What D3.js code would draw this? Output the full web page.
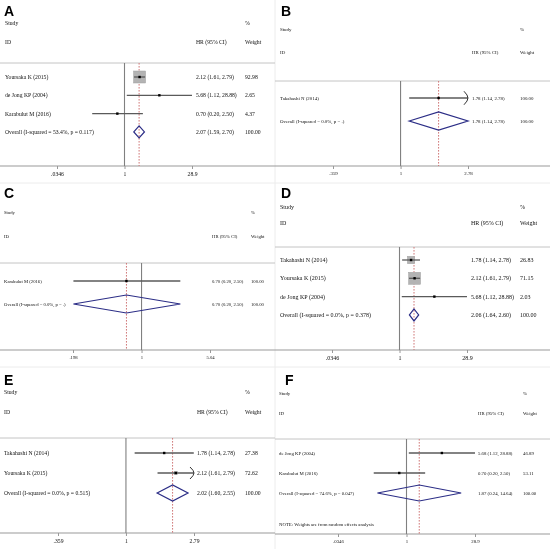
<!DOCTYPE html>
<html><head><meta charset="utf-8">
<script src="https://cdn.jsdelivr.net/npm/d3@7"></script>
<style>body{margin:0;background:#fff}svg{display:block;will-change:transform;-webkit-font-smoothing:antialiased}</style>
</head><body><svg id="chart" width="550" height="549"></svg>
<script>
// ---------------- DATA ----------------
const panelKeys = ["A", "B", "C", "D", "E", "F"];

const studiesA = ["Yoursaka K (2015)", "de Jong KP (2004)", "Karabulut M (2016)"];
const hrA = [2.12, 5.68, 0.70];
const lowA = [1.61, 1.12, 0.20];
const highA = [2.79, 28.88, 2.50];
const weightA = [92.98, 2.65, 4.37];

const studiesB = ["Takahashi N (2014)"];
const hrB = [1.78];
const lowB = [1.14];
const highB = [2.78];
const weightB = [100.00];

const studiesC = ["Karabulut M (2016)"];
const hrC = [0.70];
const lowC = [0.20];
const highC = [2.50];
const weightC = [100.00];

const studiesD = ["Takahashi N (2014)", "Yoursaka K (2015)", "de Jong KP (2004)"];
const hrD = [1.78, 2.12, 5.68];
const lowD = [1.14, 1.61, 1.12];
const highD = [2.78, 2.79, 28.88];
const weightD = [26.83, 71.15, 2.03];

const studiesE = ["Takahashi N (2014)", "Yoursaka K (2015)"];
const hrE = [1.78, 2.12];
const lowE = [1.14, 1.61];
const highE = [2.78, 2.79];
const weightE = [27.38, 72.62];

const studiesF = ["de Jong KP (2004)", "Karabulut M (2016)"];
const hrF = [5.68, 0.70];
const lowF = [1.12, 0.20];
const highF = [28.88, 2.50];
const weightF = [46.89, 53.11];

const overallHR = [2.07, 1.78, 0.70, 2.06, 2.02, 1.87];
const overallLow = [1.59, 1.14, 0.20, 1.64, 1.60, 0.24];
const overallHigh = [2.70, 2.78, 2.50, 2.60, 2.55, 14.64];
const overallI2 = ["53.4%", "0.0%", "0.0%", "0.0%", "0.0%", "74.6%"];
const overallP = ["0.117", ".", ".", "0.378", "0.515", "0.047"];

const tickValuesA = [0.0346, 1, 28.9], tickLabelsA = [".0346", "1", "28.9"];
const tickValuesB = [0.359, 1, 2.78],  tickLabelsB = [".359", "1", "2.78"];
const tickValuesC = [0.198, 1, 5.04],  tickLabelsC = [".198", "1", "5.04"];
const tickValuesD = [0.0346, 1, 28.9], tickLabelsD = [".0346", "1", "28.9"];
const tickValuesE = [0.359, 1, 2.79],  tickLabelsE = [".359", "1", "2.79"];
const tickValuesF = [0.0346, 1, 28.9], tickLabelsF = [".0346", "1", "28.9"];

const noteF = "NOTE: Weights are from random effects analysis";

const headerStudy = "Study", headerPct = "%", headerID = "ID", headerHR = "HR (95% CI)", headerWeight = "Weight";

// ---------------- ASSEMBLY ----------------
const panelData = {
  A: {studies: studiesA, hr: hrA, low: lowA, high: highA, weight: weightA, ticks: tickValuesA, tickLabels: tickLabelsA},
  B: {studies: studiesB, hr: hrB, low: lowB, high: highB, weight: weightB, ticks: tickValuesB, tickLabels: tickLabelsB},
  C: {studies: studiesC, hr: hrC, low: lowC, high: highC, weight: weightC, ticks: tickValuesC, tickLabels: tickLabelsC},
  D: {studies: studiesD, hr: hrD, low: lowD, high: highD, weight: weightD, ticks: tickValuesD, tickLabels: tickLabelsD},
  E: {studies: studiesE, hr: hrE, low: lowE, high: highE, weight: weightE, ticks: tickValuesE, tickLabels: tickLabelsE},
  F: {studies: studiesF, hr: hrF, low: lowF, high: highF, weight: weightF, ticks: tickValuesF, tickLabels: tickLabelsF}
};

// layout (positions / styles only)
const layouts = {
  A: {ox: 0,   letterX: 4,   letterY: 16,  textX: 5,   studyY: 23,  idY: 42,  topY: 63,  row0: 77,  step: 18.3, axisY: 166, xL: 57,  xR: 192, colHR: 196, colW: 245, fs: 5.7, boxK: 1.245, dh: 6},
  B: {ox: 275, letterX: 281, letterY: 16,  textX: 280, studyY: 29,  idY: 52,  topY: 81,  row0: 98,  step: 23,   axisY: 166, xL: 333, xR: 468, colHR: 472, colW: 520, fs: 4.9, boxK: 0.28,  dh: 9},
  C: {ox: 0,   letterX: 4,   letterY: 198, textX: 4,   studyY: 212, idY: 236, topY: 263, row0: 281, step: 23,   axisY: 350, xL: 73,  xR: 210, colHR: 212, colW: 251, fs: 4.7, boxK: 0.28,  dh: 9},
  D: {ox: 275, letterX: 281, letterY: 198, textX: 280, studyY: 207, idY: 223, topY: 247, row0: 260, step: 18.3, axisY: 350, xL: 332, xR: 467, colHR: 471, colW: 520, fs: 6.0, boxK: 1.42,  dh: 6},
  E: {ox: 0,   letterX: 4,   letterY: 385, textX: 4,   studyY: 392, idY: 412, topY: 438, row0: 453, step: 20,   axisY: 533, xL: 58,  xR: 194, colHR: 197, colW: 245, fs: 5.7, boxK: 0.38,  dh: 8},
  F: {ox: 275, letterX: 285, letterY: 385, textX: 279, studyY: 393, idY: 413, topY: 439, row0: 453, step: 20,   axisY: 534, xL: 338, xR: 475, colHR: 478, colW: 523, fs: 4.8, boxK: 0.38,  dh: 8, noteY: 524}
};

const svg = d3.select("#chart");
svg.append("rect").attr("width", 550).attr("height", 549).attr("fill", "#fff");

// faint panel borders
svg.append("line").attr("x1", 275).attr("x2", 275).attr("y1", 0).attr("y2", 549).attr("stroke", "#ececec");
[183, 367].forEach(yy => svg.append("line").attr("x1", 0).attr("x2", 550).attr("y1", yy).attr("y2", yy).attr("stroke", "#ececec"));

const serif = "'Liberation Serif', 'Times New Roman', serif";
const fmt = v => v.toFixed(2);

panelKeys.forEach((key, pi) => {
  const d = panelData[key];
  const L = layouts[key];
  const g = svg.append("g");
  const x = d3.scaleLog().domain([d.ticks[0], d.ticks[2]]).range([L.xL, L.xR]);
  const tMax = d.ticks[2], tMin = d.ticks[0];

  const txt = (tx, ty, s) => g.append("text").attr("x", tx).attr("y", ty + L.fs * 0.35)
    .attr("font-family", serif).attr("font-size", L.fs).attr("fill", "#111").text(s);

  // panel letter
  g.append("text").attr("x", L.letterX).attr("y", L.letterY)
    .attr("font-family", "'Liberation Sans', Arial, sans-serif").attr("font-weight", "bold")
    .attr("font-size", 14).attr("fill", "#000").text(key);

  // headers
  txt(L.textX, L.studyY, headerStudy);
  txt(L.colW, L.studyY, headerPct);
  txt(L.textX, L.idY, headerID);
  txt(L.colHR, L.idY, headerHR);
  txt(L.colW, L.idY, headerWeight);

  // separator under header
  g.append("line").attr("x1", L.ox).attr("x2", L.ox + 275).attr("y1", L.topY).attr("y2", L.topY)
    .attr("stroke", "#c4c4c4").attr("stroke-width", 1);

  // axis line across panel
  g.append("line").attr("x1", L.ox).attr("x2", L.ox + 275).attr("y1", L.axisY).attr("y2", L.axisY)
    .attr("stroke", "#999").attr("stroke-width", 1.2);

  const axis = d3.axisBottom(x).tickValues(d.ticks).tickFormat((v, i) => d.tickLabels[i])
    .tickSize(3).tickPadding(3);
  const ag = g.append("g").attr("transform", `translate(0,${L.axisY})`).call(axis);
  ag.select(".domain").remove();
  ag.selectAll(".tick line").attr("stroke", "#999");
  ag.selectAll(".tick text").attr("font-family", serif).attr("font-size", L.fs).attr("fill", "#111");

  // null line at 1
  g.append("line").attr("x1", x(1)).attr("x2", x(1)).attr("y1", L.topY).attr("y2", L.axisY)
    .attr("stroke", "#808080").attr("stroke-width", 1.1);

  // overall dashed line
  g.append("line").attr("x1", x(overallHR[pi])).attr("x2", x(overallHR[pi]))
    .attr("y1", L.topY).attr("y2", L.axisY)
    .attr("stroke", "#d07878").attr("stroke-width", 1).attr("stroke-dasharray", "1.6,1.4");

  // study rows
  d.studies.forEach((s, i) => {
    const y = L.row0 + i * L.step;
    txt(L.textX, y, s);
    txt(L.colHR, y, `${fmt(d.hr[i])} (${fmt(d.low[i])}, ${fmt(d.high[i])})`);
    txt(L.colW, y, fmt(d.weight[i]));

    const side = L.boxK * Math.sqrt(d.weight[i]);
    const cx = x(d.hr[i]);
    if (side > 3) {
      g.append("rect").attr("x", cx - side / 2).attr("y", y - side / 2)
        .attr("width", side).attr("height", side)
        .attr("fill", "#b3b3b3").attr("stroke", "#a0a0a0").attr("stroke-width", 0.5);
    }
    const lo = Math.max(d.low[i], tMin), hi = Math.min(d.high[i], tMax);
    g.append("line").attr("x1", x(lo)).attr("x2", x(hi)).attr("y1", y).attr("y2", y)
      .attr("stroke", "#5a5a5a").attr("stroke-width", 1.3);
    if (d.high[i] >= tMax) {
      const xe = x(hi), ah = L.dh * 0.75;
      g.append("path")
        .attr("d", `M${xe - 4},${y - ah} Q${xe},${y - ah * 0.4} ${xe},${y} Q${xe},${y + ah * 0.4} ${xe - 4},${y + ah}`)
        .attr("fill", "none").attr("stroke", "#333").attr("stroke-width", 1);
    }
    const ds = 2.4;
    g.append("rect").attr("x", cx - ds / 2).attr("y", y - ds / 2).attr("width", ds).attr("height", ds).attr("fill", "#000");
  });

  // overall row
  const oy = L.row0 + d.studies.length * L.step;
  txt(L.textX, oy, `Overall  (I-squared = ${overallI2[pi]}, p = ${overallP[pi]})`);
  txt(L.colHR, oy, `${fmt(overallHR[pi])} (${fmt(overallLow[pi])}, ${fmt(overallHigh[pi])})`);
  txt(L.colW, oy, "100.00");
  const pts = [[x(overallLow[pi]), oy], [x(overallHR[pi]), oy - L.dh], [x(overallHigh[pi]), oy], [x(overallHR[pi]), oy + L.dh]];
  g.append("polygon").attr("points", pts.map(p => p.join(",")).join(" "))
    .attr("fill", "none").attr("stroke", "#2b2d86").attr("stroke-width", 1.2);

  if (L.noteY) txt(L.textX, L.noteY, noteF);
});
</script>
</body></html>
